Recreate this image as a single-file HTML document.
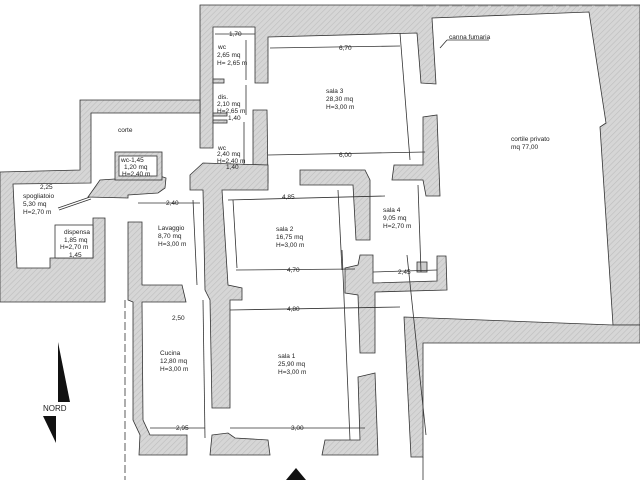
<!DOCTYPE html>
<html><head><meta charset="utf-8"><style>
html,body{margin:0;padding:0;background:#fff;}
svg{display:block;}
text{font-family:"Liberation Sans",sans-serif;font-size:6.5px;fill:#222;}
</style></head><body>
<svg width="640" height="480" viewBox="0 0 640 480" xmlns="http://www.w3.org/2000/svg">
<defs>
<pattern id="h" width="4" height="4" patternUnits="userSpaceOnUse" patternTransform="rotate(45)">
<rect width="4" height="4" fill="#d6d6d6"/><line x1="0" y1="0" x2="0" y2="4" stroke="#bdbdbd" stroke-width="1.2"/>
</pattern>
</defs>
<g fill="url(#h)" stroke="#333" stroke-width="0.8">
<polygon points="200,5 640,5 640,325 613,325 600,127 606,123 589,12 432,18 436,84 421,83 417,33 268,37 268,83 255,83 255,27 213,27 213,148 200,148"/>
<rect x="213" y="79" width="11" height="4"/>
<rect x="213" y="113" width="14" height="3"/>
<rect x="213" y="120" width="14" height="3"/>
<polygon points="0,172 80,170 80,100 200,100 200,113 91,113 91,183 13,184 17,268 50,268 50,258 93,258 93,218 105,218 105,302 0,302"/>
<polygon points="88,197 100,180 160,176 166,178 165,188 158,193 128,195 128,198"/>
<rect x="115" y="152" width="47" height="28"/>
<polygon points="253,110 267,110 268,183 253,183"/>
<polygon points="190,175 203,163 268,165 268,190 222,190 228,285 242,288 242,300 230,300 230,408 212,408 210,300 205,290 203,190 190,190"/>
<polygon points="128,222 142,222 142,285 182,285 186,302 142,302 143,420 150,435 187,435 187,455 139,455 140,435 133,420 133,302 128,300"/>
<polygon points="212,435 228,433 235,438 268,440 270,455 210,455"/>
<polygon points="358,377 375,373 378,455 322,455 325,440 360,440"/>
<polygon points="300,170 365,170 370,180 370,240 356,240 353,185 300,185"/>
<polygon points="394,165 423,165 423,117 437,115 440,196 426,196 423,180 392,180"/>
<polygon points="345,268 358,265 360,255 373,255 373,283 437,281 437,256 446,256 447,290 375,292 375,353 360,353 358,295 345,293"/>
<polygon points="404,317 613,325 640,325 640,343 423,343 423,457 411,457"/>
</g>
<rect x="119" y="156" width="38" height="20" fill="#fff" stroke="#333" stroke-width="0.8"/>
<rect x="55" y="225" width="38" height="33" fill="#fff" stroke="#333" stroke-width="0.8"/>
<rect x="417" y="262" width="10" height="10" fill="#ccc" stroke="#333" stroke-width="0.8"/>
<g stroke="#333" stroke-width="0.8" fill="none">
<line x1="58" y1="208" x2="90" y2="197"/><line x1="59" y1="210" x2="91" y2="199"/>
<line x1="125" y1="300" x2="125" y2="480" stroke-dasharray="8,3"/>
<line x1="400" y1="6" x2="640" y2="6" stroke-dasharray="10,3" stroke="#999"/>
<line x1="423" y1="457" x2="423" y2="480"/>
<line x1="440" y1="48" x2="447" y2="40"/><line x1="447" y1="40" x2="489" y2="40"/>
<line x1="215" y1="34" x2="255" y2="34"/>
<line x1="270" y1="48" x2="400" y2="46"/>
<line x1="400" y1="33" x2="410" y2="160"/>
<line x1="268" y1="155" x2="425" y2="152"/>
<line x1="138" y1="203" x2="200" y2="203"/>
<line x1="228" y1="200" x2="385" y2="196"/>
<line x1="236" y1="270" x2="355" y2="269"/>
<line x1="230" y1="310" x2="400" y2="307"/>
<line x1="150" y1="428" x2="205" y2="428"/>
<line x1="230" y1="428" x2="365" y2="428"/>
<line x1="373" y1="272" x2="437" y2="270"/>
<line x1="246" y1="40" x2="246" y2="80"/>
<line x1="246" y1="85" x2="246" y2="115"/>
<line x1="244" y1="122" x2="244" y2="165"/>
<line x1="193" y1="200" x2="197" y2="285"/>
<line x1="233" y1="200" x2="237" y2="268"/>
<line x1="338" y1="190" x2="342" y2="270"/>
<line x1="418" y1="185" x2="421" y2="272"/>
<line x1="203" y1="300" x2="205" y2="438"/>
<line x1="342" y1="250" x2="350" y2="440"/>
<line x1="407" y1="255" x2="426" y2="435"/>
</g>
<polygon points="58,342 70,402 58,402" fill="#111"/>
<polygon points="43,416 56,416 56,443" fill="#111"/>
<polygon points="296,468 286,480 306,480" fill="#111"/>
<text x="43" y="411" style="font-size:8px">NORD</text>
<text x="229" y="36">1,70</text>
<text x="218" y="49">wc</text><text x="217" y="57">2,65 mq</text><text x="217" y="65">H= 2,65 m</text>
<text x="218" y="99">dis.</text><text x="217" y="106">2,10 mq</text><text x="217" y="113">H=2,65 m</text><text x="228" y="120">1,40</text>
<text x="218" y="150">wc</text><text x="217" y="156">2,40 mq</text><text x="217" y="163">H=2,40 m</text><text x="226" y="169">1,40</text>
<text x="118" y="132">corte</text>
<text x="121" y="162">wc-1,45</text><text x="124" y="169">1,20 mq</text><text x="122" y="176">H=2,40 m</text>
<text x="40" y="189">2,25</text><text x="23" y="198">spogliatoio</text><text x="23" y="206">5,30 mq</text><text x="23" y="214">H=2,70 m</text>
<text x="64" y="234">dispensa</text><text x="64" y="242">1,85 mq</text><text x="60" y="249">H=2,70 m</text><text x="69" y="257">1,45</text>
<text x="166" y="205">2,40</text>
<text x="158" y="230">Lavaggio</text><text x="158" y="238">8,70 mq</text><text x="158" y="246">H=3,00 m</text>
<text x="282" y="199">4,85</text>
<text x="276" y="231">sala 2</text><text x="276" y="239">16,75 mq</text><text x="276" y="247">H=3,00 m</text>
<text x="326" y="93">sala 3</text><text x="326" y="101">28,30 mq</text><text x="326" y="109">H=3,00 m</text>
<text x="339" y="50">6,70</text><text x="339" y="157">6,00</text>
<text x="511" y="141">cortile privato</text><text x="511" y="149">mq 77,00</text>
<text x="449" y="39">canna fumaria</text>
<text x="383" y="212">sala 4</text><text x="383" y="220">9,05 mq</text><text x="383" y="228">H=2,70 m</text>
<text x="398" y="274">2,45</text>
<text x="287" y="272">4,70</text><text x="287" y="311">4,80</text>
<text x="172" y="320">2,50</text>
<text x="160" y="355">Cucina</text><text x="160" y="363">12,80 mq</text><text x="160" y="371">H=3,00 m</text>
<text x="278" y="358">sala 1</text><text x="278" y="366">25,90 mq</text><text x="278" y="374">H=3,00 m</text>
<text x="176" y="430">2,95</text><text x="291" y="430">3,00</text>
</svg>
</body></html>
